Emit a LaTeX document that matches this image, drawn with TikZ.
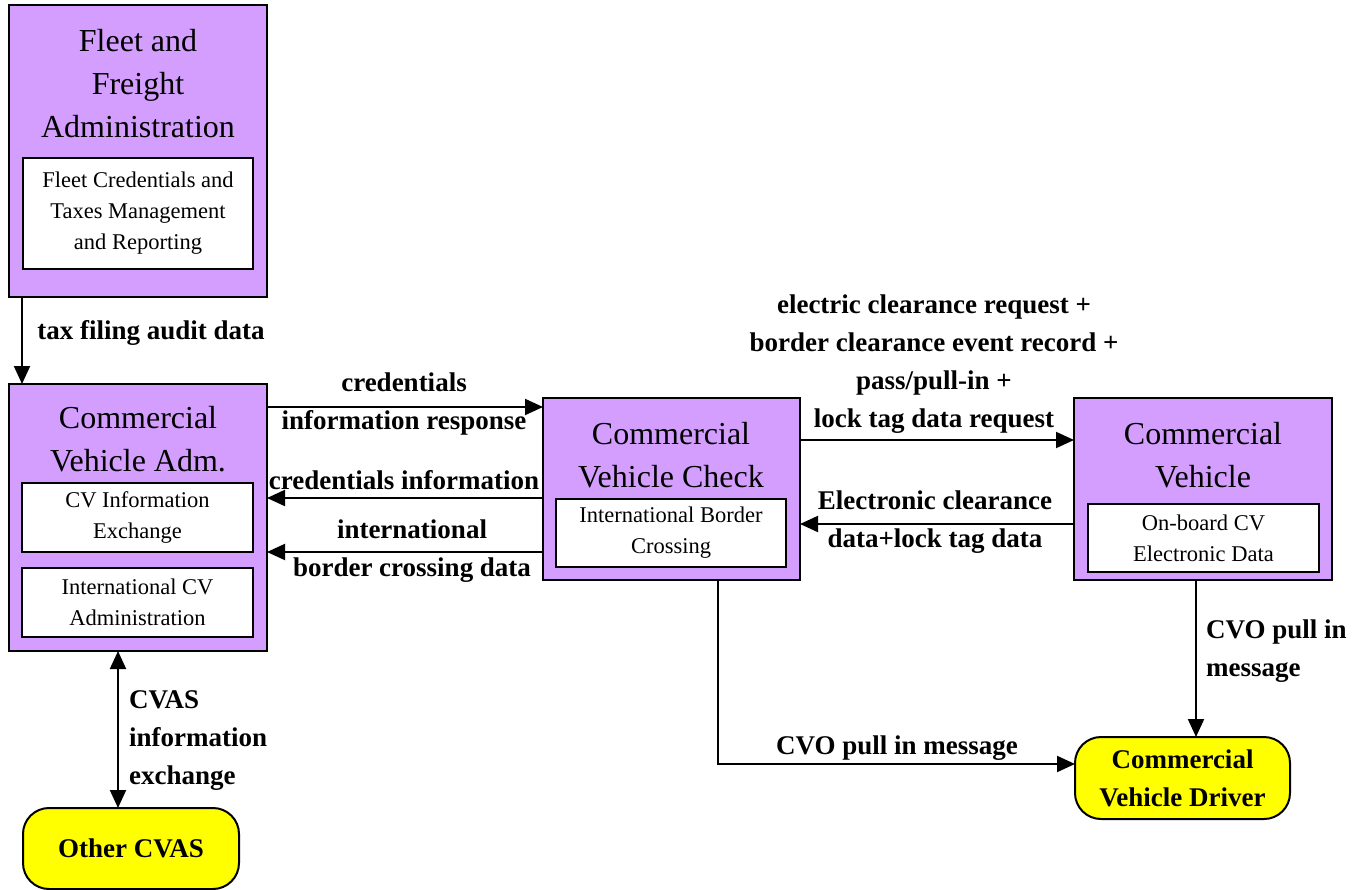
\documentclass[tikz,border=0pt]{standalone}
\usepackage{fontspec}
\setmainfont{Liberation Serif}
\usetikzlibrary{arrows.meta,calc}
\definecolor{lav}{RGB}{212,158,255}
\definecolor{ylw}{RGB}{255,255,0}
\begin{document}
\begin{tikzpicture}[x=1pt,y=-1pt,
 pbox/.style={draw, fill=lav, line width=2.2pt, anchor=north west, inner sep=0pt, outer sep=0pt},
 wbox/.style={draw, fill=white, line width=2pt, anchor=north west, inner sep=0pt, outer sep=0pt, align=center, font=\fontsize{22.5}{31}\selectfont},
 ybox/.style={draw, fill=ylw, line width=2pt, rounded corners=26pt, anchor=north west, inner sep=0pt, outer sep=0pt, align=center, font=\fontsize{27}{38}\selectfont\bfseries},
 ttl/.style={align=center, font=\fontsize{32}{43}\selectfont, inner sep=0pt},
 lbl/.style={align=center, font=\fontsize{27}{38}\selectfont\bfseries, inner sep=0pt},
 arr/.style={line width=2pt, -{Triangle[length=18pt,width=16pt]}},
 darr/.style={line width=2pt, {Triangle[length=18pt,width=16pt]}-{Triangle[length=18pt,width=16pt]}}
]
\useasboundingbox (0,0) rectangle (1367,890);

% boxes
\node[pbox, minimum width=258pt, minimum height=292pt] (fleet) at (9,5) {};
\node[ttl] (fleetT) at (138,84) {Fleet and\\Freight\\Administration};
\node[wbox, minimum width=230pt, minimum height=111pt] (fleetI) at (23,158) {Fleet Credentials and\\Taxes Management\\and Reporting};

\node[pbox, minimum width=258pt, minimum height=267pt] (cva) at (9,384) {};
\node[ttl] (cvaT) at (138,439) {Commercial\\Vehicle Adm.};
\node[wbox, minimum width=231pt, minimum height=69pt] (cvaI1) at (22,483) {CV Information\\Exchange};
\node[wbox, minimum width=231pt, minimum height=69pt] (cvaI2) at (22,568) {International CV\\Administration};

\node[pbox, minimum width=257pt, minimum height=182pt] (cvc) at (543,398) {};
\node[ttl] (cvcT) at (671,455) {Commercial\\Vehicle Check};
\node[wbox, minimum width=230pt, minimum height=68pt] (cvcI) at (556,499) {International Border\\Crossing};

\node[pbox, minimum width=258pt, minimum height=182pt] (cv) at (1074,398) {};
\node[ttl] (cvT) at (1203,455) {Commercial\\Vehicle};
\node[wbox, minimum width=231pt, minimum height=68pt] (cvI) at (1088,504) {On-board CV\\Electronic Data};

\node[ybox, minimum width=215pt, minimum height=82pt] (drv) at (1075,737) {Commercial\\Vehicle Driver};
\node[ybox, minimum width=216pt, minimum height=81pt] (oth) at (23,808) {Other CVAS};

% helper coordinates
\coordinate (ya) at (0,407);
\coordinate (yb) at (0,498);
\coordinate (yc) at (0,552);
\coordinate (yd) at (0,440);
\coordinate (ye) at (0,524);
\coordinate (yf) at (0,764);
\coordinate (xa) at (22,0);
\coordinate (xb) at (118,0);
\coordinate (xc) at (718,0);
\coordinate (xd) at (1196,0);

% connectors
\draw[arr] (fleet.south -| xa) -- (cva.north -| xa);
\draw[arr] (cva.east |- ya) -- (cvc.west |- ya);
\draw[arr] (cvc.west |- yb) -- (cva.east |- yb);
\draw[arr] (cvc.west |- yc) -- (cva.east |- yc);
\draw[arr] (cvc.east |- yd) -- (cv.west |- yd);
\draw[arr] (cv.west |- ye) -- (cvc.east |- ye);
\draw[arr] (cvc.south -| xc) |- (drv.west |- yf);
\draw[arr] (cv.south -| xd) -- (drv.north -| xd);
\draw[darr] (cva.south -| xb) -- (oth.north -| xb);

% labels
\node[lbl] (l1) at (151,333) {tax filing audit data};
\node[lbl] (l2) at (404,404) {credentials\\information response};
\node[lbl] (l3) at (404,480) {credentials information};
\node[lbl] (l4) at (412,551) {international\\border crossing data};
\node[lbl] (l5) at (934,364) {electric clearance request +\\border clearance event record +\\pass/pull-in +\\lock tag data request};
\node[lbl] (l6) at (935,522) {Electronic clearance\\data+lock tag data};
\node[lbl] (l7) at (897,748) {CVO pull in message};
\node[lbl, anchor=west, align=left] (l8) at (1206,651) {CVO pull in\\message};
\node[lbl, anchor=west, align=left] (l9) at (129,741) {CVAS\\information\\exchange};
\end{tikzpicture}
\end{document}
